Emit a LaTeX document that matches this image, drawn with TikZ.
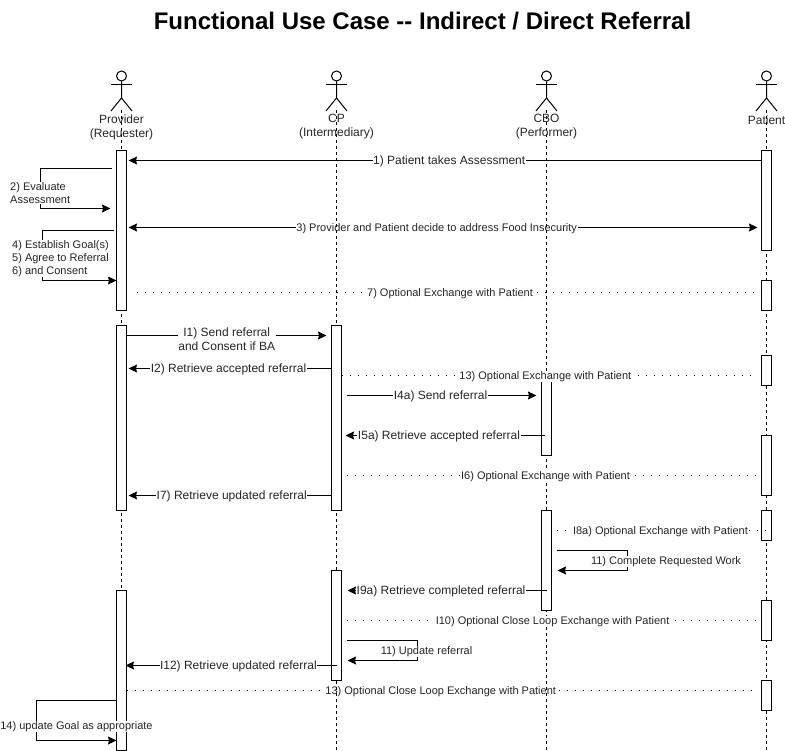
\documentclass[tikz,border=0pt]{standalone}
\usepackage{fontspec}
\setmainfont{Liberation Sans}
\usetikzlibrary{arrows.meta}
\tikzset{
  lifeline/.style={line width=1pt,dash pattern=on 3pt off 3pt},
  bar/.style={draw,fill=white,line width=1pt,minimum width=10pt,inner sep=0pt},
  msg/.style={line width=1pt,-{Stealth[length=8.5pt,width=8pt,inset=1pt]}},
  both/.style={line width=1pt,{Stealth[length=8.5pt,width=8pt,inset=1pt]}-{Stealth[length=8.5pt,width=8pt,inset=1pt]}},
  dots/.style={line width=1.2pt,dash pattern=on 1.2pt off 6.8pt},
  lbl/.style={font=\fontsize{12}{14}\selectfont,text=black!85,fill=white,inner sep=0.5pt,align=center,yshift=-0.7pt},
  sml/.style={lbl,font=\fontsize{11}{13}\selectfont},
  who/.style={font=\fontsize{12}{14}\selectfont,text=black!85,inner sep=0pt,align=center}
}
\begin{document}
\begin{tikzpicture}[x=1pt,y=-1pt]
  \useasboundingbox (-0.5,-0.5) rectangle (784.5,750.5);
  \node[font=\bfseries\fontsize{24}{26}\selectfont] (title) at (422,21) {Functional Use Case -{}- Indirect / Direct Referral};

  % drawn under the life lines
  \coordinate (m3a) at (128,227);
  \coordinate (m3b) at (757,227);
  \draw[both] (m3a) -- (m3b) node[pos=0.49,sml] (l3) {3) Provider and Patient decide to address Food Insecurity};
  \coordinate (m13a) at (126,690);
  \coordinate (m13b) at (752,690);
  \draw[dots] (m13a) -- (m13b) node[pos=0.502,sml] (l13b) {13) Optional Close Loop Exchange with Patient};

  % actors and life lines
  \foreach \who/\x in {provider/121,cp/336,cbo/546,patient/766} {
    \coordinate (\who top) at (\x,110);
    \coordinate (\who end) at (\x,751);
    \draw[lifeline] (\who top) -- (\who end);
    \node[draw,circle,fill=white,line width=1pt,minimum size=10pt,inner sep=0pt] (\who head) at (\x,75.5) {};
    \draw[line width=1pt] (\who head.south) -- ++(0,16.5) coordinate (\who hip) -- ++(-10.5,13);
    \draw[line width=1pt] (\who hip) -- ++(10.5,13);
    \draw[line width=1pt] ([shift={(-10.5,3.5)}]\who head.south) -- ++(21,0);
  }
  \node[who] (provider name) at (121,126.5) {Provider\\(Requester)};
  \node[who] (cp name) at (336,126.5) {CP\\(Intermediary)};
  \node[who] (cbo name) at (546,126.5) {CBO\\(Performer)};
  \node[who] (patient name) at (766,119.5) {Patient};

  % activation bars
  \foreach \nm/\x/\top/\bot in {p1/121/150/310,p2/121/325/510,p3/121/590/750,
      c1/336/325/510,c2/336/570/680,
      o1/546/375/455,o2/546/510/610,
      t1/766/150/250,t2/766/280/310,t3/766/355/385,t4/766/435/495,t5/766/510/540,t6/766/600/640,t7/766/680/710}
    \node[bar,minimum height={(\bot-\top)*1pt}] (\nm) at (\x,{(\top+\bot)/2}) {};

  % messages
  \coordinate (m1b) at (128,160);
  \draw[msg] (t1.west |- m1b) -- (m1b) node[pos=0.493,lbl] (l1) {1) Patient takes Assessment};

  \coordinate (m2a) at (111,168);
  \coordinate (m2b) at (110,208);
  \draw[msg] (m2a) -| (40,185) |- (m2b);
  \node[sml,align=left,anchor=west] (l2) at (9,191.5) {2) Evaluate\\Assessment};

  \coordinate (m4a) at (113,230);
  \coordinate (m4b) at (116,280);
  \draw[msg] (m4a) -| (42,250) |- (m4b);
  \node[sml,align=left,anchor=west] (l4) at (11,257) {4) Establish Goal(s)\\5) Agree to Referral\\6) and Consent};

  \coordinate (m7a) at (136,292);
  \draw[dots] (m7a) -- (t2.west |- m7a) node[pos=0.502,sml] (l7) {7) Optional Exchange with Patient};

  \coordinate (m8b) at (326,335);
  \draw[msg] (p2.east |- m8b) -- (m8b) node[pos=0.5,lbl,yshift=-3.5pt] (l8) {I1) Send referral\\and Consent if BA};

  \coordinate (m9b) at (128,368);
  \draw[msg] (c1.west |- m9b) -- (m9b) node[pos=0.506,lbl] (l9) {I2) Retrieve accepted referral};

  \coordinate (m10a) at (341,375);
  \coordinate (m10b) at (752,375);
  \draw[dots] (m10a) -- (m10b) node[pos=0.496,sml] (l10) {13) Optional Exchange with Patient};

  \coordinate (m11a) at (346,395);
  \coordinate (m11b) at (536,395);
  \draw[msg] (m11a) -- (m11b) node[pos=0.495,lbl] (l11) {I4a) Send referral};

  \coordinate (m12a) at (544,435);
  \coordinate (m12b) at (345,435);
  \draw[msg] (m12a) -- (m12b) node[pos=0.53,lbl] (l12) {I5a) Retrieve accepted referral};

  \coordinate (m14a) at (346,475);
  \coordinate (m14b) at (758,475);
  \draw[dots] (m14a) -- (m14b) node[pos=0.483,sml] (l14) {I6) Optional Exchange with Patient};

  \coordinate (m15b) at (128,495);
  \draw[msg] (c1.west |- m15b) -- (m15b) node[pos=0.49,lbl] (l15) {I7) Retrieve updated referral};

  \coordinate (m16a) at (556,530);
  \coordinate (m16b) at (766,530);
  \draw[dots] (m16a) -- (m16b) node[pos=0.495,sml] (l16) {I8a) Optional Exchange with Patient};

  \coordinate (m17a) at (556,550);
  \coordinate (m17b) at (557,570);
  \draw[msg] (m17a) -| (627,560) |- (m17b);
  \node[sml] (l17) at (665.5,560) {11) Complete Requested Work};

  \coordinate (m18a) at (546,590);
  \coordinate (m18b) at (347,590);
  \draw[msg] (m18a) -- (m18b) node[pos=0.53,lbl] (l18) {I9a) Retrieve completed referral};

  \coordinate (m19a) at (346,620);
  \coordinate (m19b) at (759,620);
  \draw[dots] (m19a) -- (m19b) node[pos=0.499,sml] (l19) {I10) Optional Close Loop Exchange with Patient};

  \coordinate (m20a) at (346,640);
  \coordinate (m20b) at (347,660);
  \draw[msg] (m20a) -| (417,650) |- (m20b);
  \node[sml] (l20) at (426,650) {11) Update referral};

  \coordinate (m21a) at (336,665);
  \coordinate (m21b) at (125,665);
  \draw[msg] (m21a) -- (m21b) node[pos=0.465,lbl] (l21) {I12) Retrieve updated referral};

  \coordinate (m22b) at (116,740);
  \draw[msg] (p3.west |- 0,700) -| (36,720) |- (m22b);
  \node[sml] (l22) at (76,725) {14) update Goal as appropriate};
\end{tikzpicture}
\end{document}
